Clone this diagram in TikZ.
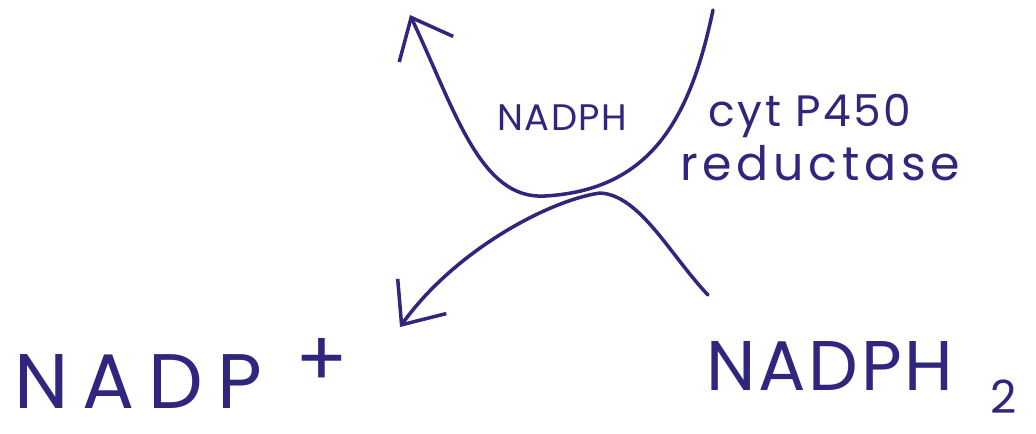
\documentclass[tikz,border=0pt]{standalone}
\usepackage{fontspec}
\setmainfont{Poppins}
\usetikzlibrary{arrows.meta}
\definecolor{ink}{RGB}{48,38,125}
\tikzset{
  pen/.style={draw=ink, line width=2pt, line cap=round, line join=round},
  barb/.style={-{Straight Barb[length=20pt,width=34pt,line width=2pt]}},
  lbl/.style={text=ink, inner sep=0pt, anchor=center}
}
\newcommand{\spaced}[1]{\addfontfeature{LetterSpace=#1}}
\begin{document}
\begin{tikzpicture}[x=0.2mm, y=-0.2mm]
\useasboundingbox[fill=white] (0,0) rectangle (1036,433);
% curve anchor points
\coordinate (utop) at (713,10);
\coordinate (ubot) at (545,196);
\coordinate (utip) at (410,15);
\coordinate (lstart) at (708,295);
\coordinate (lpeak) at (600,193);
\coordinate (ltip) at (400,327);
% upper curve (NADPH -> reductase)
\draw[pen, barb] (utop) .. controls (690,120) and (650,190) .. (ubot)
  .. controls (480,200) and (455,110) .. (utip);
% lower curve (NADPH2 -> NADP+)
\draw[pen, barb] (lstart) .. controls (670,255) and (640,195) .. (lpeak)
  .. controls (550,200) and (455,250) .. (ltip);
% labels
\node[lbl, font=\fontsize{21}{23}\selectfont\spaced{4}, anchor=west] (nadph) at (497,118) {NADPH};
\node[lbl, font=\fontsize{25}{27}\selectfont\spaced{6}, anchor=west] (cyt) at (708,116) {cyt P450};
\node[lbl, font=\fontsize{27}{29}\selectfont\spaced{10}, anchor=west] (red) at (680,163) {reductase};
\node[lbl, font=\fontsize{44}{46}\selectfont\spaced{18}, text depth=0pt, anchor=base west] (nadp) at (14,408) {NADP};
\node[lbl, font=\fontsize{44}{46}\selectfont] (plus) at (322,362) {+};
\node[lbl, font=\fontsize{40}{42}\selectfont\spaced{4}, anchor=west] (nadph2) at (706,366) {NADPH};
\node[lbl, font=\fontsize{26}{28}\selectfont, text depth=0pt, anchor=base] (two) at (1004,413) {2};
\end{tikzpicture}
\end{document}
